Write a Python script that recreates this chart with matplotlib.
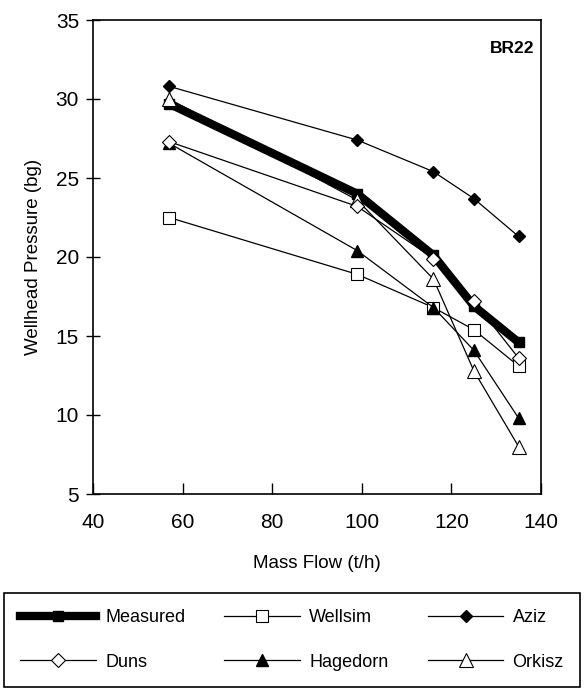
import matplotlib.pyplot as plt

plt.rcParams['font.family'] = ['Liberation Sans', 'DejaVu Sans']

mass_flow = [57, 99, 116, 125, 135]

measured = [29.7, 24.0, 20.1, 16.9, 14.6]
wellsim = [22.5, 18.9, 16.8, 15.4, 13.1]
aziz = [30.8, 27.4, 25.4, 23.7, 21.3]
duns = [27.3, 23.2, 19.9, 17.2, 13.6]
hagedorn = [27.2, 20.4, 16.8, 14.1, 9.8]
orkisz = [30.0, 23.6, 18.6, 12.8, 8.0]

x_ticks = [40, 60, 80, 100, 120, 140]
y_ticks = [5, 10, 15, 20, 25, 30, 35]

fig = plt.figure(figsize=(5.84, 6.97), dpi=100)
ax = fig.add_axes([93 / 584, 1 - 494 / 697, 448 / 584, 474 / 697])

thin = dict(color='black', linewidth=0.9)
h_meas, = ax.plot(mass_flow, measured, color='black', linewidth=6, marker='s',
                  markersize=7, label='Measured', zorder=3)
h_well, = ax.plot(mass_flow, wellsim, marker='s', markersize=9, markerfacecolor='white',
                  markeredgecolor='black', markeredgewidth=0.8, label='Wellsim', zorder=4, **thin)
h_aziz, = ax.plot(mass_flow, aziz, marker='D', markersize=6, markerfacecolor='black',
                  label='Aziz', zorder=4, **thin)
h_duns, = ax.plot(mass_flow, duns, marker='D', markersize=7, markerfacecolor='white',
                  markeredgecolor='black', markeredgewidth=0.8, label='Duns', zorder=5, **thin)
h_hage, = ax.plot(mass_flow, hagedorn, marker='^', markersize=8, markerfacecolor='black',
                  label='Hagedorn', zorder=4, **thin)
h_orki, = ax.plot(mass_flow, orkisz, marker='^', markersize=10, markerfacecolor='white',
                  markeredgecolor='black', markeredgewidth=0.8, label='Orkisz', zorder=4, **thin)

ax.set_xlim(40, 140)
ax.set_ylim(5, 35)
ax.set_xticks(x_ticks)
ax.set_yticks(y_ticks)
ax.tick_params(axis='y', direction='inout', length=10, width=1, labelsize=15, pad=5)
ax.tick_params(axis='x', direction='in', length=8, width=1, labelsize=15, pad=14)
for s in ax.spines.values():
    s.set_linewidth(1.2)

ax.set_xlabel('Mass Flow (t/h)', fontsize=13.5, labelpad=16)
ax.set_ylabel('Wellhead Pressure (bg)', fontsize=13.5, labelpad=10)
ax.text(0.985, 0.955, 'BR22', transform=ax.transAxes, ha='right', va='top',
        fontsize=12.5, fontweight='bold')

handles = [h_meas, h_duns, h_well, h_hage, h_aziz, h_orki]
leg = fig.legend(handles, [h.get_label() for h in handles], ncol=3, loc='center',
                 bbox_to_anchor=(4 / 584, 5 / 697, 576 / 584, 104 / 697), mode='expand',
                 fontsize=13, handlelength=4.2, handletextpad=0.5, labelspacing=1.5,
                 fancybox=False, edgecolor='black', framealpha=1, borderaxespad=0,
                 columnspacing=0.8, borderpad=0.9)
leg.get_frame().set_linewidth(1.2)

fig.savefig('out.png', dpi=100)
